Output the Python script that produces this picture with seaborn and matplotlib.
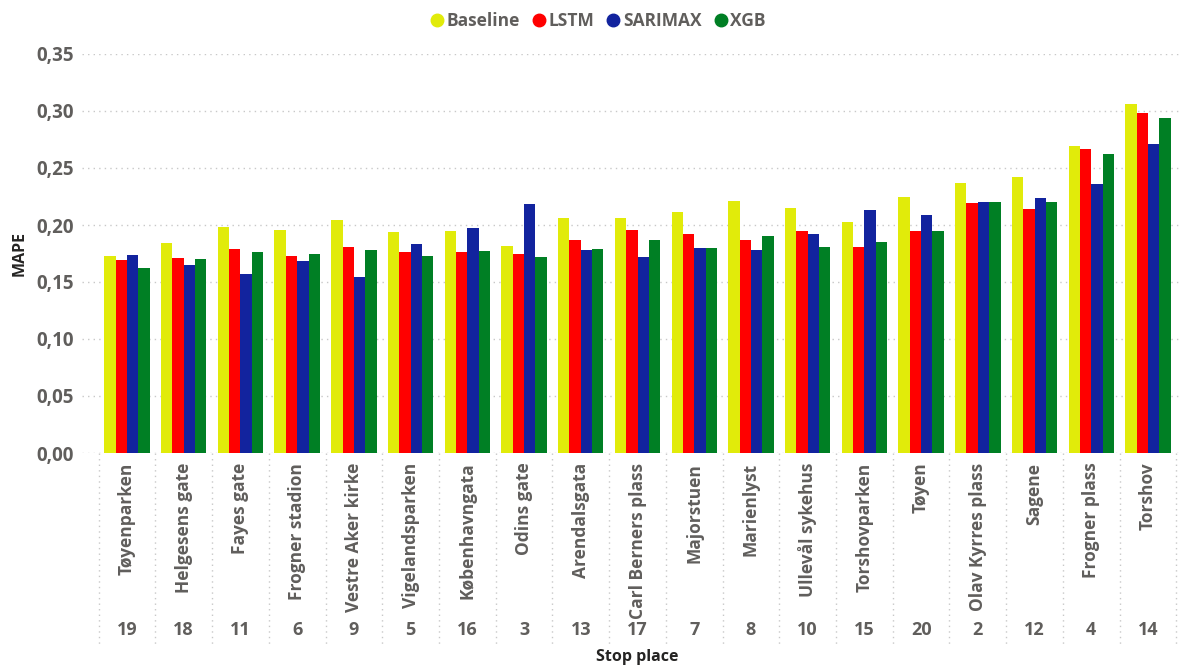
import matplotlib
matplotlib.use("Agg")
import matplotlib.pyplot as plt
from matplotlib.lines import Line2D
from matplotlib.ticker import FuncFormatter, MultipleLocator
import pandas as pd
import seaborn as sns

# Stop places (ordered by mean error) and their stop ids
stops = ["Tøyenparken", "Helgesens gate", "Fayes gate", "Frogner stadion",
         "Vestre Aker kirke", "Vigelandsparken", "Københavngata", "Odins gate",
         "Arendalsgata", "Carl Berners plass", "Majorstuen", "Marienlyst",
         "Ullevål sykehus", "Torshovparken", "Tøyen", "Olav Kyrres plass",
         "Sagene", "Frogner plass", "Torshov"]
stop_ids = ["19", "18", "11", "6", "9", "5", "16", "3", "13", "17", "7", "8",
            "10", "15", "20", "2", "12", "4", "14"]

models = ["Baseline", "LSTM", "SARIMAX", "XGB"]

baseline = [0.173, 0.184, 0.198, 0.196, 0.204, 0.194, 0.195, 0.182, 0.206,
            0.206, 0.211, 0.221, 0.215, 0.203, 0.225, 0.237, 0.242, 0.269, 0.306]
lstm = [0.169, 0.171, 0.179, 0.173, 0.181, 0.176, 0.176, 0.175, 0.187,
        0.196, 0.192, 0.187, 0.195, 0.181, 0.195, 0.219, 0.214, 0.267, 0.298]
sarimax = [0.174, 0.165, 0.157, 0.168, 0.154, 0.183, 0.197, 0.218, 0.178,
           0.172, 0.180, 0.178, 0.192, 0.213, 0.209, 0.220, 0.224, 0.236, 0.271]
xgb = [0.162, 0.170, 0.176, 0.175, 0.178, 0.173, 0.177, 0.172, 0.179,
       0.187, 0.180, 0.190, 0.181, 0.185, 0.195, 0.220, 0.220, 0.262, 0.294]

colors = ["#E1EB0A", "#FF0000", "#12239E", "#007F24"]

df = pd.DataFrame({
    "Stop place": stops * 4,
    "MAPE": baseline + lstm + sarimax + xgb,
    "Model": [m for m in models for _ in stops],
})

sns.set_theme(style="white")
plt.rcParams["font.family"] = ["Open Sans", "DejaVu Sans"]

TXT = "#605E5C"
DARK = "#252423"

W, H = 1185, 669
fig = plt.figure(figsize=(W / 100, H / 100), dpi=100)
ax_left, ax_right = 82, 1180
ax_top, ax_bottom = 54, 453
ax = fig.add_axes([ax_left / W, 1 - ax_bottom / H,
                   (ax_right - ax_left) / W, (ax_bottom - ax_top) / H])

sns.barplot(data=df, x="Stop place", y="MAPE", hue="Model", order=stops,
            hue_order=models, palette=colors, saturation=1, width=0.8,
            linewidth=0, legend=False, ax=ax)

pitch = 56.7
ax.set_xlim(-(127 - ax_left) / pitch, 18 + (ax_right - 1148) / pitch)
ax.set_ylim(0, 0.35)

for s in ax.spines.values():
    s.set_visible(False)

ax.yaxis.set_major_locator(MultipleLocator(0.05))
ax.yaxis.set_major_formatter(FuncFormatter(lambda v, p: f"{v:.2f}".replace(".", ",")))
ax.grid(axis="y", linestyle=(0, (1, 3)), color="#C8C8C8", linewidth=1.0)
ax.grid(axis="x", visible=False)
ax.set_axisbelow(True)
ax.tick_params(axis="y", length=0, pad=6, labelsize=13.5, labelcolor=TXT)
for t in ax.get_yticklabels():
    t.set_fontweight("bold")

ax.set_xticks(range(len(stops)))
ax.set_xticklabels(stops, rotation=90, va="top", ha="center",
                   fontsize=12.5, fontweight="bold", color=TXT)
ax.tick_params(axis="x", length=0, pad=7)

ax.set_ylabel("MAPE", fontsize=11.5, fontweight="bold", color=DARK, labelpad=6)
ax.set_xlabel("")

axh = ax_bottom - ax_top
xt = ax.get_xaxis_transform()
# Stop ids under the names
for i, sid in enumerate(stop_ids):
    ax.text(i, -(630 - ax_bottom) / axh, sid, transform=xt, ha="center",
            va="center", fontsize=13, fontweight="bold", color=TXT)
# Dotted separators between categories in the label band
for i in range(len(stops) + 1):
    ax.plot([i - 0.5, i - 0.5], [0, -(645 - ax_bottom) / axh], transform=xt,
            clip_on=False, linestyle=(0, (1, 3)), color="#C8C8C8", linewidth=1.0)

fig.text(637 / W, 1 - 657 / H, "Stop place", ha="center", va="center",
         fontsize=11.5, fontweight="bold", color=DARK)

handles = [Line2D([0], [0], marker="o", linestyle="none", markersize=9,
                  markerfacecolor=c, markeredgecolor=c) for c in colors]
leg = fig.legend(handles, models, loc="center", bbox_to_anchor=(597 / W, 1 - 21 / H),
                 ncol=4, frameon=False, handletextpad=0.05, columnspacing=0.6,
                 handlelength=1.0, prop={"weight": "bold", "size": 12.5})
for t in leg.get_texts():
    t.set_color(TXT)

fig.savefig("out.png", dpi=100, facecolor="white")
